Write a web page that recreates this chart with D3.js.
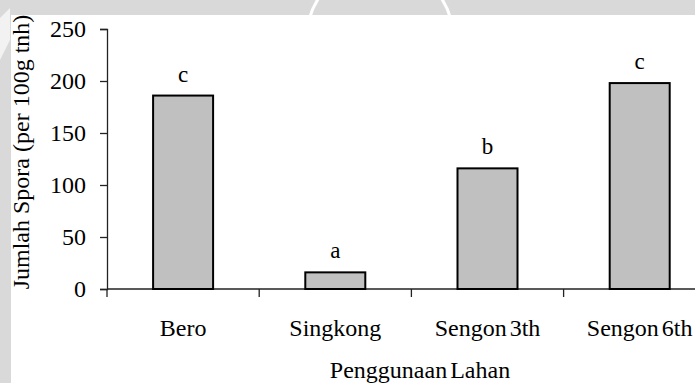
<!DOCTYPE html>
<html>
<head>
<meta charset="utf-8">
<script src="https://cdn.jsdelivr.net/npm/d3@7"></script>
<style>
  html, body { margin: 0; padding: 0; background: #ffffff; }
  svg { display: block; }
  text { font-family: "Liberation Serif", "Times New Roman", serif; fill: #000; }
</style>
</head>
<body>
<div id="chart"></div>
<script>
// ---- data ----
const categories = ["Bero", "Singkong", "Sengon 3th", "Sengon 6th"];
const values = [186, 16, 116, 198];
const letters = ["c", "a", "b", "c"];
const yTicks = [0, 50, 100, 150, 200, 250];
const xTitle = "Penggunaan Lahan";
const yTitle = "Jumlah Spora (per 100g tnh)";

// ---- layout ----
const W = 695, H = 383;
const x0 = 107, yBase = 289, yTop = 29;
const band = 152.2;

const svg = d3.select("#chart").append("svg").attr("width", W).attr("height", H);

// page background with watermark band
svg.append("rect").attr("width", W).attr("height", H).attr("fill", "#d9d9d9");
svg.append("circle").attr("cx", 380).attr("cy", 38).attr("r", 73)
  .attr("fill", "none").attr("stroke", "#ffffff").attr("stroke-width", 3);
svg.append("path").attr("d", "M0,18 L10,8 L10,40 L0,60 Z").attr("fill", "#f2f2f2");
svg.append("rect").attr("x", 11).attr("y", 15).attr("width", W - 11).attr("height", H - 15).attr("fill", "#ffffff");

const x = d3.scaleBand().domain(categories).range([x0, x0 + band * categories.length]).paddingInner(0).paddingOuter(0);
const y = d3.scaleLinear().domain([0, 250]).range([yBase, yTop]);

// y axis
const yAxis = d3.axisLeft(y).tickValues(yTicks).tickSize(7).tickPadding(14);
const gy = svg.append("g").attr("transform", `translate(${x0},0)`).call(yAxis);
gy.select(".domain").attr("stroke", "#222").attr("stroke-width", 1.3);
gy.selectAll(".tick line").attr("stroke", "#222").attr("stroke-width", 1.3);
gy.selectAll(".tick text").style("font-family", "Liberation Serif").style("font-size", "24px").attr("fill", "#000");

// x axis line and ticks at band boundaries
svg.append("line").attr("x1", x0).attr("x2", W).attr("y1", yBase).attr("y2", yBase)
  .attr("stroke", "#222").attr("stroke-width", 1.3);
const bounds = categories.map(c => x(c));
svg.selectAll(".xtick").data(bounds).enter().append("line")
  .attr("x1", d => d).attr("x2", d => d).attr("y1", yBase).attr("y2", yBase + 8)
  .attr("stroke", "#222").attr("stroke-width", 1.3);

// bars
const barW = 60;
svg.selectAll(".bar").data(values).enter().append("rect")
  .attr("x", (d, i) => x(categories[i]) + x.bandwidth() / 2 - barW / 2)
  .attr("y", d => y(d))
  .attr("width", barW)
  .attr("height", d => yBase - y(d))
  .attr("fill", "#c0c0c0").attr("stroke", "#000").attr("stroke-width", 2);

// letters
svg.selectAll(".lab").data(values).enter().append("text")
  .attr("x", (d, i) => x(categories[i]) + x.bandwidth() / 2)
  .attr("y", d => y(d) - 14)
  .attr("text-anchor", "middle").style("font-size", "23px")
  .text((d, i) => letters[i]);

// category labels
svg.selectAll(".cat").data(categories).enter().append("text")
  .attr("x", d => x(d) + x.bandwidth() / 2)
  .attr("y", 336)
  .attr("text-anchor", "middle").style("font-size", "24px").style("word-spacing", "-3px")
  .text(d => d);

// axis titles
svg.append("text").attr("x", 420).attr("y", 378).attr("text-anchor", "middle")
  .style("font-size", "24px").style("word-spacing", "-3px").text(xTitle);
svg.append("text").attr("transform", "translate(29,152) rotate(-90)").attr("text-anchor", "middle")
  .style("font-size", "24px").text(yTitle);
</script>
</body>
</html>
